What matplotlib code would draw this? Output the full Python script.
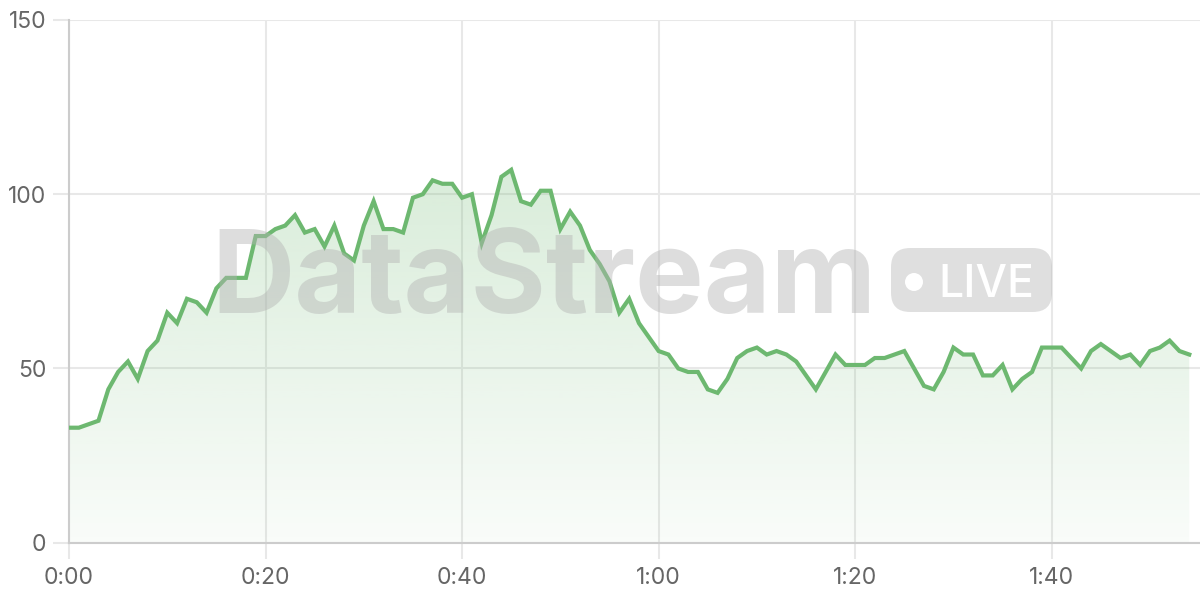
import matplotlib
matplotlib.use("Agg")
import matplotlib.pyplot as plt
import numpy as np
from matplotlib.patches import FancyBboxPatch, Ellipse, Polygon

# one value per second, 0:00 .. 1:54
values = [33, 33, 34, 35, 44, 49, 52, 47, 55, 58,
          66, 63, 70, 69, 66, 73, 76, 76, 76, 88,
          88, 90, 91, 94, 89, 90, 85, 91, 83, 81,
          91, 98, 90, 90, 89, 99, 100, 104, 103, 103,
          99, 100, 86, 94, 105, 107, 98, 97, 101, 101,
          90, 95, 91, 84, 80, 75, 66, 70, 63, 59,
          55, 54, 50, 49, 49, 44, 43, 47, 53, 55,
          56, 54, 55, 54, 52, 48, 44, 49, 54, 51,
          51, 51, 53, 53, 54, 55, 50, 45, 44, 49,
          56, 54, 54, 48, 48, 51, 44, 47, 49, 56,
          56, 56, 53, 50, 55, 57, 55, 53, 54, 51,
          55, 56, 58, 55, 54]
seconds = list(range(len(values)))
x_ticks = [0, 20, 40, 60, 80, 100]
x_labels = ["0:00", "0:20", "0:40", "1:00", "1:20", "1:40"]
y_ticks = [0, 50, 100, 150]

green = "#6db870"
grid_c = "#e8e8e8"
label_c = "#666666"

plt.rcParams['font.family'] = ['Inter', 'DejaVu Sans']

fig = plt.figure(figsize=(12, 6), dpi=100)
ax = fig.add_axes([69 / 1200, 57.3 / 600, 1131 / 1200, 522.7 / 600])
ax.set_xlim(0, 1131 / 9.827)
ax.set_ylim(0, 150)

# gradient fill under the line
grad = np.linspace(0, 1, 256).reshape(-1, 1)
rgba = np.zeros((256, 1, 4))
rgba[..., :3] = matplotlib.colors.to_rgb(green)
rgba[..., 3] = 0.04 + 0.22 * grad[:, 0:1] * 150 / 107
img = ax.imshow(rgba, extent=[0, seconds[-1], 0, 150], origin="lower",
                aspect="auto", zorder=1)
poly = Polygon(list(zip(seconds, values)) + [(seconds[-1], 0), (0, 0)],
               closed=True, transform=ax.transData, facecolor="none", edgecolor="none")
ax.add_patch(poly)
img.set_clip_path(poly)

ax.plot(seconds, values, color=green, lw=3, solid_joinstyle="miter", zorder=5)

ax.set_xticks(x_ticks)
ax.set_xticklabels(x_labels)
ax.set_yticks(y_ticks)
ax.grid(True, color=grid_c, lw=1.5, zorder=0)
ax.set_axisbelow(True)
ax.tick_params(axis="both", colors=grid_c, labelcolor=label_c, labelsize=16.5,
               width=1.5, length=11.5)
ax.tick_params(axis="x", pad=6)
ax.tick_params(axis="y", pad=5)
for s in ["top", "right"]:
    ax.spines[s].set_visible(False)
ax.spines["left"].set_color("#cccccc")
ax.spines["bottom"].set_color("#cccccc")
ax.spines["left"].set_linewidth(1.5)
ax.spines["bottom"].set_linewidth(1.5)

# watermark
fig.text(211 / 1200, (600 - 313) / 600, "DataStream", fontsize=83, fontweight="bold",
         color="#b4b4b4", alpha=0.45, ha="left", va="baseline", zorder=3)
pill = FancyBboxPatch((891 / 1200, 288 / 600), 161 / 1200, 64 / 600,
                      boxstyle="round,pad=0,rounding_size=0.016",
                      transform=fig.transFigure, facecolor="#b4b4b4", alpha=0.42,
                      edgecolor="none", mutation_aspect=2, zorder=3)
fig.patches.append(pill)
dot = Ellipse((914 / 1200, 318 / 600), 18 / 1200, 18 / 600, transform=fig.transFigure,
              facecolor="white", edgecolor="none", zorder=4)
fig.patches.append(dot)
fig.text(938 / 1200, (600 - 296.7) / 600, "LIVE", fontsize=32, fontweight="medium",
         color="white", ha="left", va="baseline", zorder=4)

fig.savefig("out.png", dpi=100)
